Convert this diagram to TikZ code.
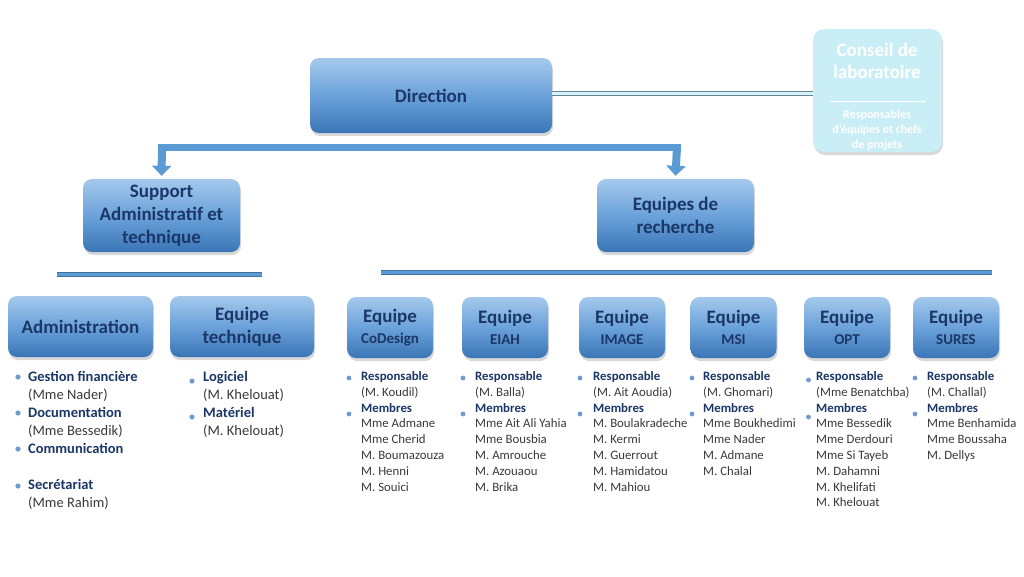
\documentclass[tikz,border=0pt]{standalone}
\usepackage{fontspec}
\setmainfont{Carlito}
\usetikzlibrary{shadows,arrows.meta}
\definecolor{navy}{HTML}{1B3767}
\definecolor{btop}{HTML}{A5C9EC}
\definecolor{bmid}{HTML}{6BA2DA}
\definecolor{bbot}{HTML}{3A75B6}
\definecolor{barc}{HTML}{5B9BD5}
\definecolor{bard}{HTML}{41719C}
\definecolor{bul}{HTML}{6E9CD0}
\definecolor{namec}{HTML}{3A3A3A}
\definecolor{consc}{HTML}{C9EEF6}
\definecolor{linkc}{HTML}{5F8596}
\newcommand\hd[1]{{\bfseries\color{navy}#1}}
\newcommand\subf{\fontsize{15}{21}\selectfont}
\newcommand\lstitems[5]{%
  \foreach \itm [count=\i] in {#5} {\node[anchor=base west, inner sep=0pt] (#1\i) at (#2, {#3+(\i-1)*#4}) {\itm};}}
\begin{document}
\begin{tikzpicture}[x=1pt,y=-1pt,
  box/.style={rounded corners=9pt, top color=btop, bottom color=bbot, middle color=bmid,
    text=navy, font=\bfseries\fontsize{19}{23}\selectfont, align=center, inner sep=0pt,
    drop shadow={opacity=0.3, shadow xshift=1pt, shadow yshift=-3pt}},
  tbox/.style={box, minimum width=86pt, minimum height=61pt, font=\bfseries\fontsize{19}{21}\selectfont},
  cbox/.style={rounded corners=11pt, fill=consc, minimum width=129pt, minimum height=123pt,
    drop shadow={opacity=0.3, shadow xshift=1pt, shadow yshift=-3pt}},
  ctext/.style={text=white, font=\bfseries\fontsize{19}{22}\selectfont, align=center, inner sep=0pt},
  csmall/.style={text=white, font=\bfseries\fontsize{12}{15}\selectfont, align=center, inner sep=0pt},
  bar/.style={draw=bard, line width=0.7pt, double=barc, double distance=3pt},
  barrow/.style={barc, line width=8pt, -{Triangle[width=19pt,length=10pt]}},
  ladm/.style={font=\fontsize{14.5}{18}\selectfont, text=namec},
  lteam/.style={font=\fontsize{12.8}{15.8}\selectfont, text=namec},
  dot/.style={fill=bul}
]
\fill[white] (0,0) rectangle (1024,576);
\useasboundingbox (0,0) rectangle (1024,576);

% top level
\node[box, minimum width=242pt, minimum height=75pt] (dir) at (431,95.5) {Direction};
\node[cbox] (cons) at (877.5,90.5) {};
\node[ctext] (cons-t) at (877,61) {Conseil de\\laboratoire};
\node[csmall] (cons-s) at (877,130) {Responsables\\d'équipes et chefs\\de projets};
\draw[white, line width=0.8pt] ([xshift=-48pt]cons.center |- 0,101) coordinate (cl1) -- ([xshift=48pt]cons.center |- 0,101) coordinate (cl2);
\draw[draw=linkc, line width=1pt, double=consc!70!white, double distance=3pt]
  ([yshift=2.5pt]dir.east) -- ([yshift=2.5pt]dir.east -| cons.west);

% second level
\node[box, minimum width=157pt, minimum height=73pt] (sup) at (161.5,215.5) {Support\\Administratif et\\technique};
\node[box, minimum width=157pt, minimum height=73pt] (eqr) at (675.5,215.5) {Equipes de\\recherche};

% arrows
\coordinate (bl) at (162,147);
\coordinate (br) at (677,147);
\draw[barc, line width=7pt] ([xshift=-4pt]bl) -- ([xshift=4pt]br);
\draw[barrow] (bl) -- ([yshift=3pt]sup.north);
\draw[barrow] (br) -- ([yshift=3pt]eqr.north);

% separators
\coordinate (s1a) at (57,274.5); \coordinate (s1b) at (262,274.5);
\coordinate (s2a) at (381,272.5); \coordinate (s2b) at (992,272.5);
\draw[bar] (s1a) -- (s1b);
\draw[bar] (s2a) -- (s2b);

% third level
\node[box, minimum width=145pt, minimum height=61pt] (adm) at (80.5,326.5) {Administration};
\node[box, minimum width=144pt, minimum height=61pt, font=\bfseries\fontsize{19}{23}\selectfont] (etech) at (242,326.5) {Equipe\\technique};
\node[tbox] (cod) at (390,327.5) {Equipe\\{\subf CoDesign}};
\node[tbox] (eiah) at (505,327.5) {Equipe\\{\subf EIAH}};
\node[tbox] (img) at (622,327.5) {Equipe\\{\subf IMAGE}};
\node[tbox] (msi) at (733.5,327.5) {Equipe\\{\subf MSI}};
\node[tbox] (opt) at (847,327.5) {Equipe\\{\subf OPT}};
\node[tbox] (sur) at (956,327.5) {Equipe\\{\subf SURES}};

% lists
\begin{scope}[nodes={ladm}]
\lstitems{ad}{28}{381.5}{18}{\hd{Gestion financière},(Mme Nader),\hd{Documentation},(Mme Bessedik),\hd{Communication}}
\lstitems{se}{28}{489.5}{18}{\hd{Secrétariat},(Mme Rahim)}
\lstitems{te}{203}{381.5}{18}{\hd{Logiciel},(M. Khelouat),\hd{Matériel},(M. Khelouat)}
\end{scope}
\foreach \yy in {377,413,449,486} \fill[dot] (18,\yy) circle (2.6pt);
\foreach \yy in {381,417} \fill[dot] (192,\yy) circle (2.6pt);

\begin{scope}[nodes={lteam}]
\lstitems{lc}{361}{380.5}{15.8}{\hd{Responsable},(M. Koudil),\hd{Membres},Mme Admane,Mme Cherid,M. Boumazouza,M. Henni,M. Souici}
\lstitems{le}{475}{380.5}{15.8}{\hd{Responsable},(M. Balla),\hd{Membres},Mme Ait Ali Yahia,Mme Bousbia,M. Amrouche,M. Azouaou,M. Brika}
\lstitems{li}{593}{380.5}{15.8}{\hd{Responsable},(M. Ait Aoudia),\hd{Membres},M. Boulakradeche,M. Kermi,M. Guerrout,M. Hamidatou,M. Mahiou}
\lstitems{lm}{703}{380.5}{15.8}{\hd{Responsable},(M. Ghomari),\hd{Membres},Mme Boukhedimi,Mme Nader,M. Admane,M. Chalal}
\lstitems{lo}{816}{380.5}{15.8}{\hd{Responsable},(Mme Benatchba),\hd{Membres},Mme Bessedik,Mme Derdouri,Mme Si Tayeb,M. Dahamni,M. Khelifati,M. Khelouat}
\lstitems{ls}{927}{380.5}{15.8}{\hd{Responsable},(M. Challal),\hd{Membres},Mme Benhamida,Mme Boussaha,M. Dellys}
\end{scope}
\foreach \xx in {349,463,580,692,915} {\fill[dot] (\xx,378) circle (2.4pt); \fill[dot] (\xx,414) circle (2.4pt);}
\fill[dot] (808.5,380) circle (2.4pt); \fill[dot] (808.5,417) circle (2.4pt);
\end{tikzpicture}
\end{document}
